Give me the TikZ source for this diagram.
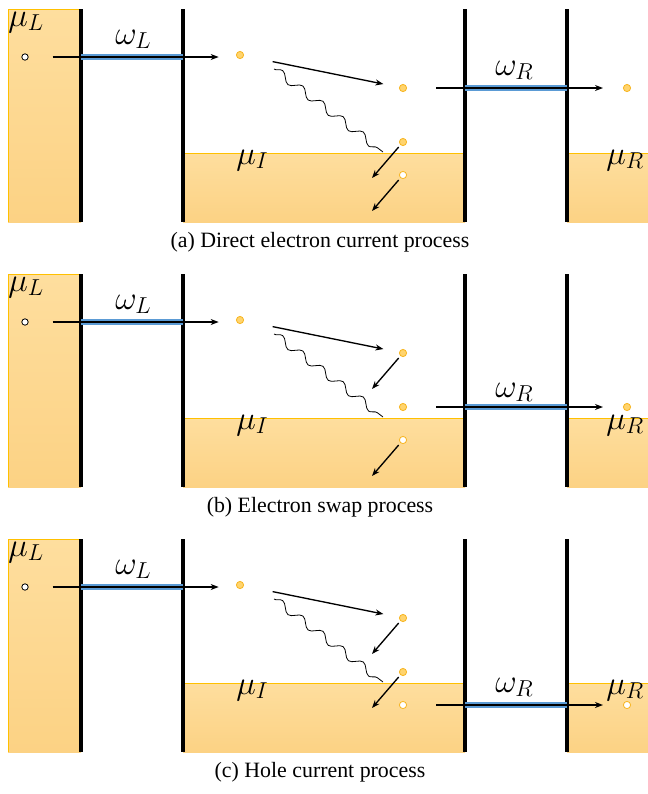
\documentclass[tikz,border=0pt]{standalone}
\usepackage{fontspec}
\setmainfont{Liberation Serif}
\usetikzlibrary{arrows.meta,calc,decorations.pathmorphing}
\definecolor{restop}{RGB}{254,222,158}
\definecolor{resbot}{RGB}{252,210,132}
\definecolor{resedge}{RGB}{255,192,0}
\definecolor{dotfill}{RGB}{255,212,110}
\definecolor{dotrim}{RGB}{247,180,30}
\definecolor{bandblue}{RGB}{91,155,213}
\tikzset{
  reservoir/.style={top color=restop,bottom color=resbot,draw=none},
  resline/.style={draw=resedge,line width=0.6pt},
  barrier/.style={draw=black,line width=2.3pt},
  edot/.style={circle,draw=dotrim,fill=dotfill,minimum size=5.4pt,inner sep=0pt,line width=0.6pt},
  hdot/.style={edot,fill=white},
  srcdot/.style={circle,draw=black,fill=white,minimum size=4.8pt,inner sep=0pt,line width=0.6pt},
  hop/.style={draw,-{Stealth[length=6pt,width=4.5pt]},line width=1pt},
  photon/.style={draw,line width=0.6pt,decorate,decoration={snake,segment length=19pt,amplitude=3pt}},
  band/.style={draw=bandblue,line width=4pt},
  lbl/.style={font=\fontsize{25}{28}\selectfont,inner sep=0pt,anchor=base west},
  caption/.style={font=\fontsize{16.4}{19}\selectfont,inner sep=0pt},
}
\begin{document}
\begin{tikzpicture}[x=0.75pt,y=-0.75pt]
\useasboundingbox (0,0) rectangle (648,794);

% the three panels share leads, barriers and levels
\foreach \p/\dy/\cap in {a/0/{(a) Direct electron current process},b/265/{(b) Electron swap process},c/530/{(c) Hole current process}}{
\begin{scope}[shift={(0,\dy)}]
  \fill[reservoir] (8,9) rectangle (81,222);
  \fill[reservoir] (183,153) rectangle (465,222);
  \fill[reservoir] (567,153) rectangle (648,222);
  \draw[resline] (8,222) -- (8,9) -- (81,9);
  \draw[resline] (183,153) -- (465,153) (567,153) -- (648,153);
  \foreach \x/\n in {81/1,183/2,465/3,567/4}
    \draw[barrier] (\x,9) coordinate (\p-b\n) -- (\x,222);

  \node[srcdot] (\p-src) at (25,57) {};
  \node[edot] (\p-e1) at (240,55) {};
  \node[edot] (\p-e2) at (403,88) {};
  \node[edot] (\p-e3) at (403,142) {};
  \node[hdot] (\p-h) at (403,175) {};

  \node[lbl] (\p-muL) at (8,26) {$\mu_L$};
  \node[lbl] (\p-wL) at (115,44) {$\omega_L$};
  \node[lbl] (\p-muI) at (236,164) {$\mu_I$};
  \node[lbl] (\p-muR) at (606,164) {$\mu_R$};

  \draw[band] (\p-src -| \p-b1) -- (\p-src -| \p-b2);
  \draw[hop,shorten <=18pt,shorten >=16pt] (\p-src) -- (\p-src -| \p-e1);
  \draw[hop,shorten <=22pt,shorten >=12pt] (\p-e1) -- (\p-e2);

  \coordinate (\p-w0) at ($(\p-e1)+(34,14)$);
  \coordinate (\p-w1) at ($(\p-e3)+(-20,10)$);
  \draw[photon] (\p-w0) -- (\p-w1);

  \coordinate (\p-t2) at ($(\p-e2)+(-31,36)$);
  \coordinate (\p-t3) at ($(\p-e3)+(-31,36)$);
  \coordinate (\p-th) at ($(\p-h)+(-31,36)$);

  \node[caption] (\p-cap) at (320,242) {\cap};
\end{scope}
}

% (a) direct electron current
\begin{scope}
  \node[edot] (a-r) at (627,88) {};
  \draw[band] (a-e2 -| a-b3) -- (a-e2 -| a-b4);
  \draw[hop,shorten <=22pt,shorten >=15pt] (a-e2) -- (a-r);
  \node[lbl] (a-wR) at (495,75) {$\omega_R$};
  \draw[hop,shorten <=2pt] (a-e3) -- (a-t3);
  \draw[hop,shorten <=2pt] (a-h) -- (a-th);
\end{scope}

% (b) electron swap
\begin{scope}[shift={(0,265)}]
  \node[edot] (b-r) at (627,142) {};
  \draw[band] (b-e3 -| b-b3) -- (b-e3 -| b-b4);
  \draw[hop,shorten <=22pt,shorten >=15pt] (b-e3) -- (b-r);
  \node[lbl] (b-wR) at (495,132) {$\omega_R$};
  \draw[hop,shorten <=2pt] (b-e2) -- (b-t2);
  \draw[hop,shorten <=2pt] (b-h) -- (b-th);
\end{scope}

% (c) hole current
\begin{scope}[shift={(0,530)}]
  \node[hdot] (c-r) at (627,175) {};
  \draw[band] (c-h -| c-b3) -- (c-h -| c-b4);
  \draw[hop,shorten <=22pt,shorten >=15pt] (c-h) -- (c-r);
  \node[lbl] (c-wR) at (495,162) {$\omega_R$};
  \draw[hop,shorten <=2pt] (c-e2) -- (c-t2);
  \draw[hop,shorten <=2pt] (c-e3) -- (c-t3);
\end{scope}

\end{tikzpicture}
\end{document}
